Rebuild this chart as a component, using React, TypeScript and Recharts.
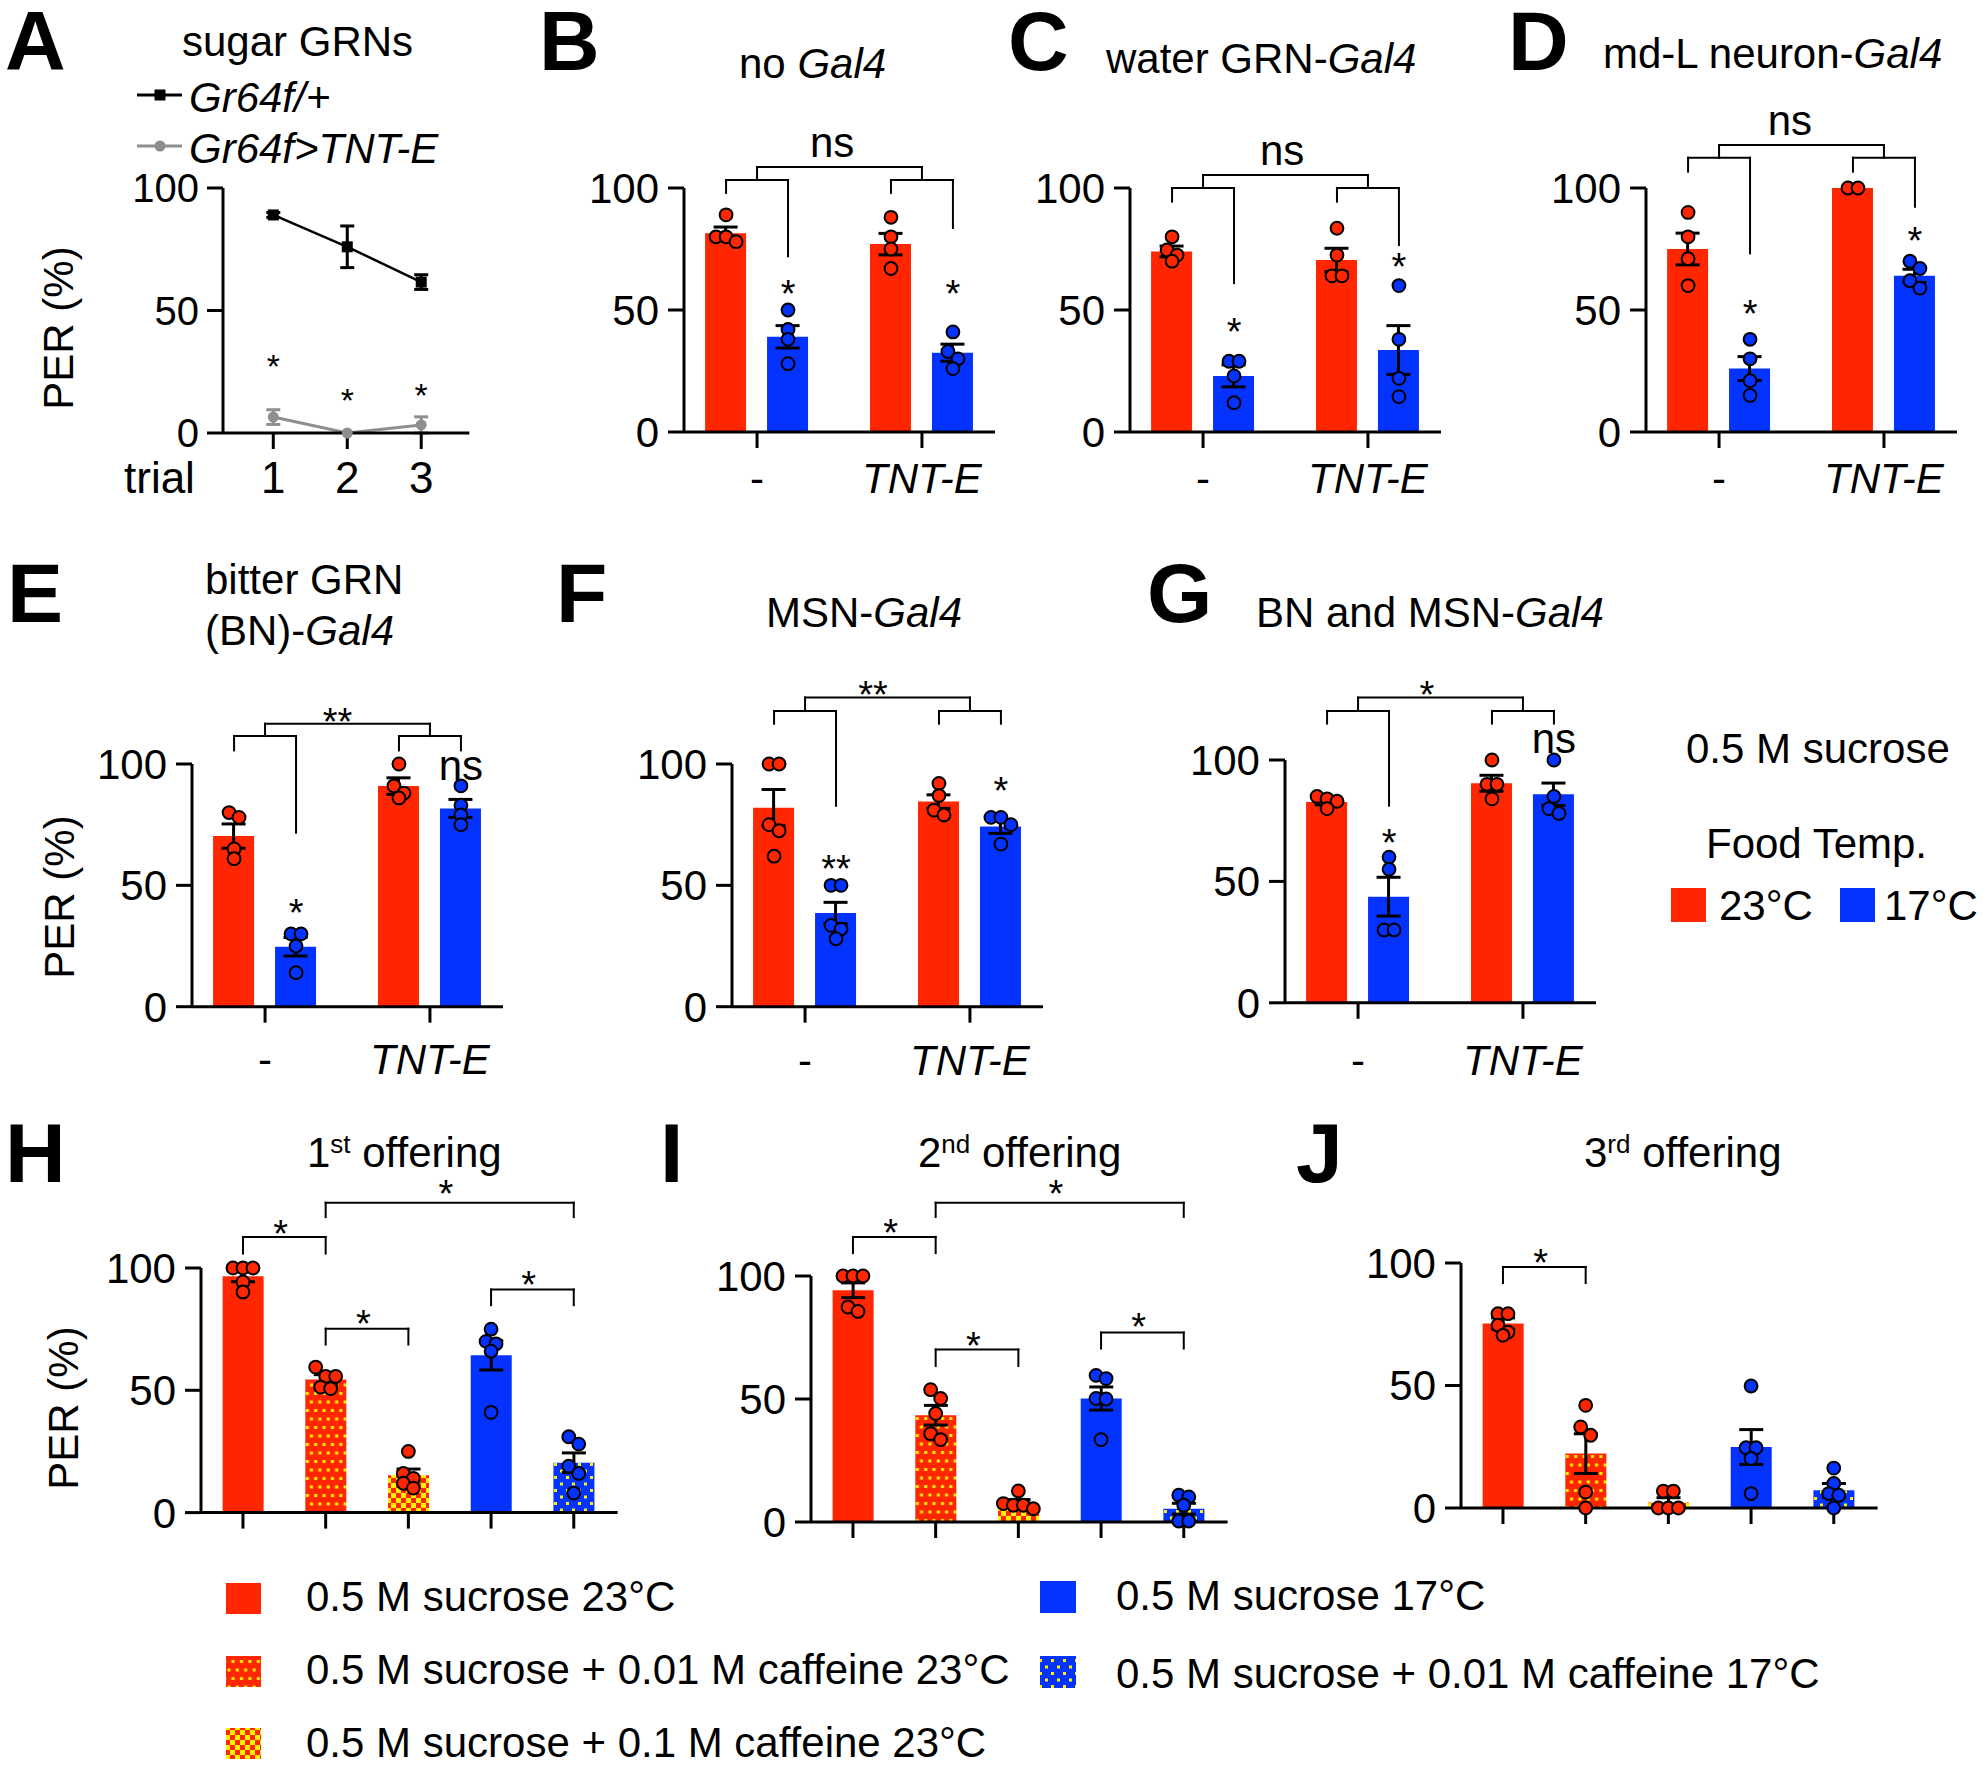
import React from 'react';
import {
  ComposedChart, Bar, Line, Scatter, XAxis, YAxis, ErrorBar, Cell,
  ReferenceLine, ReferenceDot,
} from 'recharts';

const FONT = '"Liberation Sans", Arial, Helvetica, sans-serif';
const RED = '#FF2600';
const BLUE = '#0433FF';
const YEL = '#FFF200';
const GRAY = '#8E8E8E';
const AX = { stroke: '#000', strokeWidth: 3 };
const YW = 110;

// ---------------- Panel A ----------------
const A_TRIALS = [1, 2, 3];
const A_CTRL = [89, 76, 61.6];
const A_CTRL_SEM = [1, 8.5, 3];
const A_TNT = [6.5, 0, 3.3];
const A_TNT_SEM = [3, 0, 3.3];
const A_STARS = [30.6, 16.7, 18.8];

// ---------------- Panels B–G (bar order: - 23°C, - 17°C, TNT-E 23°C, TNT-E 17°C) ----------------
const GENOTYPES = ['-', 'TNT-E'];

const B_MEAN = [81.5, 39, 77, 32.5];
const B_SEM = [2.5, 4.6, 4.4, 3.5];
const B_PTS = [[89, 80, 80, 78], [50, 42, 38, 28], [88, 80, 75, 67], [41, 33, 30, 26]];
const B_BRACKET = [108.6, 103.3, 98, 72, 98, 83.6];
const B_NOTES = [
  { text: '*', bar: 1, y: 60.2, kind: 'star' },
  { text: '*', bar: 3, y: 60.2, kind: 'star' },
  { text: 'ns', bar: -1, x: 1.455, y: 112.7, kind: 'text' },
];

const C_MEAN = [74, 23, 70.5, 33.6];
const C_SEM = [2.2, 4.5, 4.8, 10];
const C_PTS = [[80, 74.6, 72.5, 70], [29, 29, 23, 12], [83.5, 72.5, 64, 64], [60, 38, 22, 14.5]];
const C_BRACKET = [105.3, 100, 94.4, 61, 94.4, 76.6];
const C_NOTES = [
  { text: '*', bar: 1, y: 44.7, kind: 'star' },
  { text: '*', bar: 3, y: 71.3, kind: 'star' },
  { text: 'ns', bar: -1, x: 1.48, y: 109.4, kind: 'text' },
];

const D_MEAN = [75, 26, 100, 64];
const D_SEM = [6.5, 4.9, 0, 2.7];
const D_PTS = [[90, 80, 71, 60], [38, 30, 21, 15], [100, 100], [70, 67, 62, 59]];
const D_BRACKET = [117.6, 112.4, 106.7, 73.2, 106.7, 92.3];
const D_NOTES = [
  { text: '*', bar: 1, y: 52, kind: 'star' },
  { text: '*', bar: 3, y: 82, kind: 'star' },
  { text: 'ns', bar: -1, x: 1.43, y: 121.7, kind: 'text' },
];

const E_MEAN = [70.3, 24.7, 90.9, 81.7];
const E_SEM = [5, 3.8, 3.4, 3.7];
const E_PTS = [[80, 78, 65, 61], [30, 30, 25, 14], [100, 91, 88, 86], [91, 83, 79, 75]];
const E_BRACKET = [116.6, 111.5, 105.6, 71.7, 105.6, 105.6];
const E_NOTES = [
  { text: '**', bar: -1, x: 1.44, y: 121.1, kind: 'star' },
  { text: '*', bar: 1, y: 42.3, kind: 'star' },
  { text: 'ns', bar: 3, y: 93.5, kind: 'text' },
];

const F_MEAN = [82, 38.6, 84.5, 74.2];
const F_SEM = [7.5, 4.4, 2.8, 2.8];
const F_PTS = [[100, 100, 75, 72.5, 62], [50, 50, 33.5, 32, 28], [92, 87, 81, 79], [78, 78, 75, 67]];
const F_BRACKET = [127.4, 121.8, 116.6, 82.8, 116.6, 116.6];
const F_NOTES = [
  { text: '**', bar: -1, x: 1.412, y: 132.3, kind: 'star' },
  { text: '**', bar: 1, y: 60.6, kind: 'star' },
  { text: '*', bar: 3, y: 92.7, kind: 'star' },
];

const G_MEAN = [82.7, 43.7, 90.4, 85.9];
const G_SEM = [1.2, 8, 3.3, 4.6];
const G_PTS = [[85, 84, 83, 80], [60, 55, 30, 30], [100, 90, 90, 84], [100, 85, 80, 78]];
const G_BRACKET = [125.7, 120.2, 115, 81.2, 115, 115];
const G_NOTES = [
  { text: '*', bar: -1, x: 1.417, y: 130.6, kind: 'star' },
  { text: '*', bar: 1, y: 69.4, kind: 'star' },
  { text: 'ns', bar: 3, y: 102.8, kind: 'text' },
];

// ---------------- Panels H–J (5 solutions) ----------------
const H_MEAN = [96.6, 54.4, 15.3, 64.3, 20.4];
const H_SEM = [2.2, 2, 2.5, 6, 4];
const H_PTS = [[100, 100, 100, 94.3, 90.2], [59.5, 55.7, 55.7, 51.3, 50.7], [25, 16, 14, 12, 10], [75, 70, 69, 66, 41], [31, 28, 19, 16, 8]];
const H_BRACKETS = [[0, 1, 112.7, 105.9, 117.5], [1, 4, 126.7, 120.8, 133.8], [1, 2, 75.2, 68.7, 80.7], [3, 4, 91.2, 84.8, 96.7]];

const I_MEAN = [94.2, 43.4, 7.5, 50.2, 5.4];
const I_SEM = [3, 4, 1.6, 4.7, 2.2];
const I_PTS = [[100, 100, 100, 87.4, 85.6], [53.8, 50.2, 44.1, 35.9, 33.5], [12.6, 7.5, 6.8, 6.8, 5.4], [59.6, 58.3, 50.2, 50, 33.5], [10.9, 10.2, 6.8, 0.4, 0.4]];
const I_BRACKETS = [[0, 1, 115.9, 109.3, 121], [1, 4, 129.8, 124, 136.9], [1, 2, 70.1, 63.4, 75.2], [3, 4, 77, 70.5, 82.8]];

const J_MEAN = [75.3, 22.2, 2.2, 24.9, 7.2];
const J_SEM = [2.3, 8.1, 2, 7.1, 2.8];
const J_PTS = [[79.3, 79.3, 74.6, 71.8, 70.5], [41.9, 33.1, 29.7, 6.5, 0], [6.9, 6.9, 0, 0, 0], [49.8, 24.6, 24.6, 20.2, 5.9], [16.3, 10, 5.9, 5.2, 0]];
const J_BRACKETS = [[0, 1, 98.4, 91.8, 103.6]];

const SOLUTIONS = [
  '0.5 M sucrose 23°C',
  '0.5 M sucrose + 0.01 M caffeine 23°C',
  '0.5 M sucrose + 0.1 M caffeine 23°C',
  '0.5 M sucrose 17°C',
  '0.5 M sucrose + 0.01 M caffeine 17°C',
];
const SOL_FILLS = [RED, 'url(#redDots)', 'url(#checker)', BLUE, 'url(#blueDots)'];
const SOL_POINT = [RED, RED, RED, BLUE, BLUE];

// ---------------- helpers ----------------
const OFF = 31 / 165;
const TWO_XS = [1 - OFF, 1 + OFF, 2 - OFF, 2 + OFF];
const FIVE_XS = [1, 2, 3, 4, 5];

function swarm(values: number[], ppu: number, step = 10, thr = 9.5) {
  const idx = values.map((_, i) => i).sort((a, b) => values[b] - values[a]);
  const dx = new Array(values.length).fill(0);
  let row: number[] = [];
  const flush = () => {
    row.forEach((k, j) => { dx[k] = (j - (row.length - 1) / 2) * step; });
    row = [];
  };
  for (const k of idx) {
    if (row.length && (values[row[0]] - values[k]) * ppu > thr) flush();
    row.push(k);
  }
  flush();
  return dx;
}

function groupSegs(xs: number[], s: number[]) {
  const [top, sub, l0, l1, l2, l3] = s;
  return [
    [1, top, 2, top], [1, top, 1, sub], [2, top, 2, sub],
    [xs[0], sub, xs[1], sub], [xs[0], sub, xs[0], l0], [xs[1], sub, xs[1], l1],
    [xs[2], sub, xs[3], sub], [xs[2], sub, xs[2], l2], [xs[3], sub, xs[3], l3],
  ];
}

function pairSegs(xs: number[], list: number[][]) {
  const out: number[][] = [];
  list.forEach(([i, j, y, leg]) => {
    out.push([xs[i], y, xs[j], y], [xs[i], y, xs[i], leg], [xs[j], y, xs[j], leg]);
  });
  return out;
}

const noteShape = (text: string, kind: string) => (p: any) => {
  const fs = kind === 'star' ? 38 : 42;
  const y = kind === 'star' ? p.cy + fs * 0.58 : p.cy;
  return (
    <text x={p.cx} y={y} textAnchor="middle" fontSize={fs} fontFamily={FONT} fill="#000">{text}</text>
  );
};

const pointShape = (p: any) => (
  <circle cx={p.cx + (p.payload?.dx ?? 0)} cy={p.cy} r={6.4} fill={p.payload?.fill} stroke="#000" strokeWidth={2} />
);

type Note = { text: string; bar: number; y: number; kind: string; x?: number };

function BarPanel(props: {
  axisX: number; y100: number; y0: number; topM: number;
  domain: [number, number]; xs: number[]; plotW: number;
  means: number[]; sems: number[]; pts: number[][]; fills: string[]; ptFills: string[];
  ticks: number[]; tickLabels: string[]; labelDy: number;
  segs: number[][]; notes: Note[];
}) {
  const { axisX, y100, y0, topM } = props;
  const T = y100 - topM;
  const L = axisX - YW;
  const xAxisH = 90;
  const right = 10;
  const W = YW + props.plotW + right;
  const H = topM + (y0 - y100) + xAxisH;
  const ppu = (y0 - y100) / 100;
  const rows = props.means.map((m, i) => ({ x: props.xs[i], value: m, sem: props.sems[i] }));
  const points = props.pts.flatMap((vals, i) => {
    const dx = swarm(vals, ppu);
    return vals.map((v, k) => ({ x: props.xs[i], y: v, dx: dx[k], fill: props.ptFills[i] }));
  });
  const baseline = topM + (y0 - y100) + props.labelDy;
  const tick = (p: any) => {
    const idx = props.ticks.indexOf(p.payload.value);
    const lab = props.tickLabels[idx] ?? '';
    if (!lab) return <g />;
    return (
      <text x={p.x} y={baseline} textAnchor="middle" fontSize={42} fontFamily={FONT}
        fontStyle={lab === 'TNT-E' ? 'italic' : 'normal'} fill="#000">{lab}</text>
    );
  };
  return (
    <div style={{ position: 'absolute', left: L, top: T }}>
      <ComposedChart width={W} height={H} data={rows} margin={{ top: topM, right, bottom: 0, left: 0 }}>
        <XAxis dataKey="x" type="number" domain={props.domain} ticks={props.ticks} interval={0}
          height={xAxisH} tickSize={16} axisLine={AX} tickLine={AX} tick={tick} />
        <YAxis type="number" domain={[0, 100]} ticks={[0, 50, 100]} interval={0} width={YW}
          tickSize={16} tickMargin={9} axisLine={AX} tickLine={AX}
          tick={{ fontSize: 42, fill: '#000', fontFamily: FONT }} />
        <Bar dataKey="value" barSize={41} isAnimationActive={false}>
          {rows.map((_, i) => <Cell key={i} fill={props.fills[i]} />)}
          <ErrorBar dataKey="sem" width={12} stroke="#000" strokeWidth={3} direction="y" />
        </Bar>
        <Scatter data={points} dataKey="y" isAnimationActive={false} shape={pointShape} />
        {props.segs.map((s, i) => (
          <ReferenceLine key={'seg' + i} segment={[{ x: s[0], y: s[1] }, { x: s[2], y: s[3] }]}
            stroke="#000" strokeWidth={2} strokeLinecap="square" ifOverflow="visible" />
        ))}
        {props.notes.map((n, i) => (
          <ReferenceDot key={'n' + i} x={n.bar < 0 ? (n.x ?? 1.5) : props.xs[n.bar]} y={n.y} r={0}
            ifOverflow="visible" shape={noteShape(n.text, n.kind)} />
        ))}
      </ComposedChart>
    </div>
  );
}

function TwoGroup(p: { axisX: number; y100: number; y0: number; topM: number; labelDy: number;
  mean: number[]; sem: number[]; pts: number[][]; bracket: number[]; notes: Note[] }) {
  return (
    <BarPanel axisX={p.axisX} y100={p.y100} y0={p.y0} topM={p.topM}
      domain={[0.557, 2.443]} xs={TWO_XS} plotW={311}
      means={p.mean} sems={p.sem} pts={p.pts} fills={[RED, BLUE, RED, BLUE]} ptFills={[RED, BLUE, RED, BLUE]}
      ticks={[1, 2]} tickLabels={GENOTYPES} labelDy={p.labelDy}
      segs={groupSegs(TWO_XS, p.bracket)} notes={p.notes} />
  );
}

function FiveBar(p: { axisX: number; y100: number; y0: number; mean: number[]; sem: number[];
  pts: number[][]; brackets: number[][] }) {
  const notes: Note[] = p.brackets.map(([i, j, , , sy]) => ({
    text: '*', bar: -1, y: sy, kind: 'star', x: (FIVE_XS[i] + FIVE_XS[j]) / 2 - 0.045,
  }));
  return (
    <BarPanel axisX={p.axisX} y100={p.y100} y0={p.y0} topM={125}
      domain={[0.4925, 5.53]} xs={FIVE_XS} plotW={416.6}
      means={p.mean} sems={p.sem} pts={p.pts} fills={SOL_FILLS} ptFills={SOL_POINT}
      ticks={FIVE_XS} tickLabels={['', '', '', '', '']} labelDy={60}
      segs={pairSegs(FIVE_XS, p.brackets)} notes={notes} />
  );
}

function PanelA() {
  const axisX = 222.7, y100 = 188, y0 = 433, topM = 45;
  const T = y100 - topM;
  const L = axisX - YW;
  const plotW = 469 - axisX;
  const xAxisH = 90;
  const W = YW + plotW + 10;
  const H = topM + (y0 - y100) + xAxisH;
  const rows = A_TRIALS.map((t, i) => ({
    x: t, ctrl: A_CTRL[i], ctrlSem: A_CTRL_SEM[i], tnt: A_TNT[i], tntSem: A_TNT_SEM[i],
  }));
  const baseline = topM + (y0 - y100) + 60;
  const tick = (p: any) => (
    <text x={p.x} y={baseline} textAnchor="middle" fontSize={44} fontFamily={FONT} fill="#000">{p.payload.value}</text>
  );
  const sq = (p: any) => <rect key={'sq' + p.index} x={p.cx - 5.5} y={p.cy - 5.5} width={11} height={11} fill="#000" />;
  const ci = (p: any) => <circle key={'ci' + p.index} cx={p.cx} cy={p.cy} r={5.5} fill={GRAY} />;
  return (
    <div style={{ position: 'absolute', left: L, top: T }}>
      <ComposedChart width={W} height={H} data={rows} margin={{ top: topM, right: 10, bottom: 0, left: 0 }}>
        <XAxis dataKey="x" type="number" domain={[0.32, 3.65]} ticks={A_TRIALS} interval={0}
          height={xAxisH} tickSize={16} axisLine={AX} tickLine={AX} tick={tick} />
        <YAxis type="number" domain={[0, 100]} ticks={[0, 50, 100]} interval={0} width={YW}
          tickSize={16} tickMargin={8} axisLine={AX} tickLine={AX}
          tick={{ fontSize: 40, fill: '#000', fontFamily: FONT }} />
        <Line dataKey="tnt" stroke={GRAY} strokeWidth={3} dot={ci} activeDot={false} isAnimationActive={false}>
          <ErrorBar dataKey="tntSem" width={7} stroke={GRAY} strokeWidth={3} direction="y" />
        </Line>
        <Line dataKey="ctrl" stroke="#000" strokeWidth={2.5} dot={sq} activeDot={false} isAnimationActive={false}>
          <ErrorBar dataKey="ctrlSem" width={7} stroke="#000" strokeWidth={3} direction="y" />
        </Line>
        {A_STARS.map((s, i) => (
          <ReferenceDot key={'as' + i} x={A_TRIALS[i]} y={s} r={0} ifOverflow="visible"
            shape={(p: any) => (
              <text x={p.cx} y={p.cy + 20} textAnchor="middle" fontSize={34} fontFamily={FONT} fill="#000">*</text>
            )} />
        ))}
      </ComposedChart>
    </div>
  );
}

function Patterns() {
  return (
    <svg width={0} height={0} style={{ position: 'absolute' }}>
      <defs>
        <pattern id="redDots" width={8.4} height={17} patternUnits="userSpaceOnUse">
          <rect width={8.4} height={17} fill={RED} />
          <rect x={0.6} y={2.5} width={3} height={3} fill={YEL} />
          <rect x={4.8} y={11} width={3} height={3} fill={YEL} />
        </pattern>
        <pattern id="blueDots" width={12} height={13} patternUnits="userSpaceOnUse">
          <rect width={12} height={13} fill={BLUE} />
          <rect x={1} y={1.5} width={3} height={3} fill={YEL} />
          <rect x={7} y={8} width={3} height={3} fill={YEL} />
        </pattern>
        <pattern id="checker" width={10} height={10} patternUnits="userSpaceOnUse">
          <rect width={10} height={10} fill={RED} />
          <rect x={0} y={0} width={5} height={5} fill={YEL} />
          <rect x={5} y={5} width={5} height={5} fill={YEL} />
        </pattern>
      </defs>
    </svg>
  );
}

const Txt = (p: { x: number; y: number; size?: number; bold?: boolean; italic?: boolean; anchor?: string; children: React.ReactNode }) => (
  <text x={p.x} y={p.y} fontSize={p.size ?? 42} fontFamily={FONT} fontWeight={p.bold ? 'bold' : 'normal'}
    fontStyle={p.italic ? 'italic' : 'normal'} textAnchor={(p.anchor as any) ?? 'start'} fill="#000">{p.children}</text>
);

const YLabel = ({ cx, cy }: { cx: number; cy: number }) => (
  <text x={cx} y={cy} transform={`rotate(-90 ${cx} ${cy})`} textAnchor="middle" dominantBaseline="central"
    fontSize={42} fontFamily={FONT} fill="#000">PER (%)</text>
);

function Overlay() {
  const letters: [string, number, number][] = [
    ['A', 5, 70], ['B', 539, 70], ['C', 1008, 70], ['D', 1508, 70],
    ['E', 7, 622], ['F', 556, 622], ['G', 1147, 622],
    ['H', 5, 1182], ['I', 660, 1182], ['J', 1296, 1182],
  ];
  const leftLegend = [0, 1, 2];
  const rightLegend = [3, 4];
  const leftRows = [[1583, 1611], [1656, 1684], [1728, 1757]];
  const rightRows = [[1581, 1610], [1656, 1688]];
  return (
    <svg width={1983} height={1766} style={{ position: 'absolute', left: 0, top: 0, pointerEvents: 'none', overflow: 'visible' }}>
      {letters.map(([t, x, y]) => <Txt key={t} x={x} y={y} size={84} bold>{t}</Txt>)}

      {/* A */}
      <Txt x={182} y={56}>sugar GRNs</Txt>
      <line x1={137} y1={95} x2={182} y2={95} stroke="#000" strokeWidth={3} />
      <rect x={154.5} y={89.5} width={11} height={11} fill="#000" />
      <Txt x={189} y={112} italic>Gr64f/+</Txt>
      <line x1={137} y1={146} x2={182} y2={146} stroke={GRAY} strokeWidth={3} />
      <circle cx={160} cy={146} r={5.5} fill={GRAY} />
      <Txt x={189} y={163} italic>Gr64f&gt;TNT-E</Txt>
      <Txt x={124} y={493} size={44}>trial</Txt>
      <YLabel cx={58} cy={328} />

      {/* titles */}
      <text x={739} y={78} fontSize={42} fontFamily={FONT}>{'no '}<tspan fontStyle="italic">Gal4</tspan></text>
      <text x={1106} y={73} fontSize={42} fontFamily={FONT}>{'water GRN-'}<tspan fontStyle="italic">Gal4</tspan></text>
      <text x={1603} y={68} fontSize={42} fontFamily={FONT}>{'md-L neuron-'}<tspan fontStyle="italic">Gal4</tspan></text>
      <Txt x={205} y={594}>bitter GRN</Txt>
      <text x={205} y={645} fontSize={42} fontFamily={FONT}>{'(BN)-'}<tspan fontStyle="italic">Gal4</tspan></text>
      <text x={766} y={627} fontSize={42} fontFamily={FONT}>{'MSN-'}<tspan fontStyle="italic">Gal4</tspan></text>
      <text x={1256} y={627} fontSize={42} fontFamily={FONT}>{'BN and MSN-'}<tspan fontStyle="italic">Gal4</tspan></text>
      <YLabel cx={59} cy={897} />

      {/* G legend */}
      <Txt x={1686} y={763}>0.5 M sucrose</Txt>
      <Txt x={1706} y={858}>Food Temp.</Txt>
      <rect x={1671} y={888} width={35} height={34} fill={RED} />
      <Txt x={1719} y={920}>23°C</Txt>
      <rect x={1840} y={888} width={35} height={34} fill={BLUE} />
      <Txt x={1884} y={920}>17°C</Txt>

      {/* H-J titles */}
      {([['1', 'st', 307], ['2', 'nd', 918], ['3', 'rd', 1584]] as [string, string, number][]).map(([n, s, x]) => (
        <text key={n} x={x} y={1167} fontSize={42} fontFamily={FONT} fill="#000">
          {n}<tspan fontSize={26} dy={-14}>{s}</tspan><tspan dy={14}>{' offering'}</tspan>
        </text>
      ))}
      <YLabel cx={63} cy={1408} />

      {/* bottom legend */}
      {leftLegend.map((k, r) => (
        <g key={'ll' + k}>
          <rect x={226} y={leftRows[r][0]} width={35} height={31} fill={SOL_FILLS[k]} />
          <Txt x={306} y={leftRows[r][1]}>{SOLUTIONS[k]}</Txt>
        </g>
      ))}
      {rightLegend.map((k, r) => (
        <g key={'rl' + k}>
          <rect x={1040} y={rightRows[r][0]} width={36} height={32} fill={SOL_FILLS[k]} />
          <Txt x={1116} y={rightRows[r][1]}>{SOLUTIONS[k]}</Txt>
        </g>
      ))}
    </svg>
  );
}

export default function App() {
  return (
    <div style={{ position: 'absolute', left: 0, top: 0, width: 1983, height: 1766, background: '#fff', overflow: 'hidden', fontFamily: FONT }}>
      <Patterns />
      <PanelA />
      <TwoGroup axisX={684} y100={188} y0={432} topM={100} labelDy={61}
        mean={B_MEAN} sem={B_SEM} pts={B_PTS} bracket={B_BRACKET} notes={B_NOTES} />
      <TwoGroup axisX={1130} y100={188} y0={432} topM={100} labelDy={61}
        mean={C_MEAN} sem={C_SEM} pts={C_PTS} bracket={C_BRACKET} notes={C_NOTES} />
      <TwoGroup axisX={1646} y100={188} y0={432} topM={100} labelDy={61}
        mean={D_MEAN} sem={D_SEM} pts={D_PTS} bracket={D_BRACKET} notes={D_NOTES} />
      <TwoGroup axisX={191.5} y100={764.3} y0={1007} topM={115} labelDy={67}
        mean={E_MEAN} sem={E_SEM} pts={E_PTS} bracket={E_BRACKET} notes={E_NOTES} />
      <TwoGroup axisX={731.8} y100={764.3} y0={1007} topM={115} labelDy={68}
        mean={F_MEAN} sem={F_SEM} pts={F_PTS} bracket={F_BRACKET} notes={F_NOTES} />
      <TwoGroup axisX={1285} y100={760.4} y0={1003.2} topM={115} labelDy={72}
        mean={G_MEAN} sem={G_SEM} pts={G_PTS} bracket={G_BRACKET} notes={G_NOTES} />
      <FiveBar axisX={200.8} y100={1267.7} y0={1512.3} mean={H_MEAN} sem={H_SEM} pts={H_PTS} brackets={H_BRACKETS} />
      <FiveBar axisX={811} y100={1275.7} y0={1521.7} mean={I_MEAN} sem={I_SEM} pts={I_PTS} brackets={I_BRACKETS} />
      <FiveBar axisX={1460.7} y100={1262.7} y0={1507.7} mean={J_MEAN} sem={J_SEM} pts={J_PTS} brackets={J_BRACKETS} />
      <Overlay />
    </div>
  );
}
